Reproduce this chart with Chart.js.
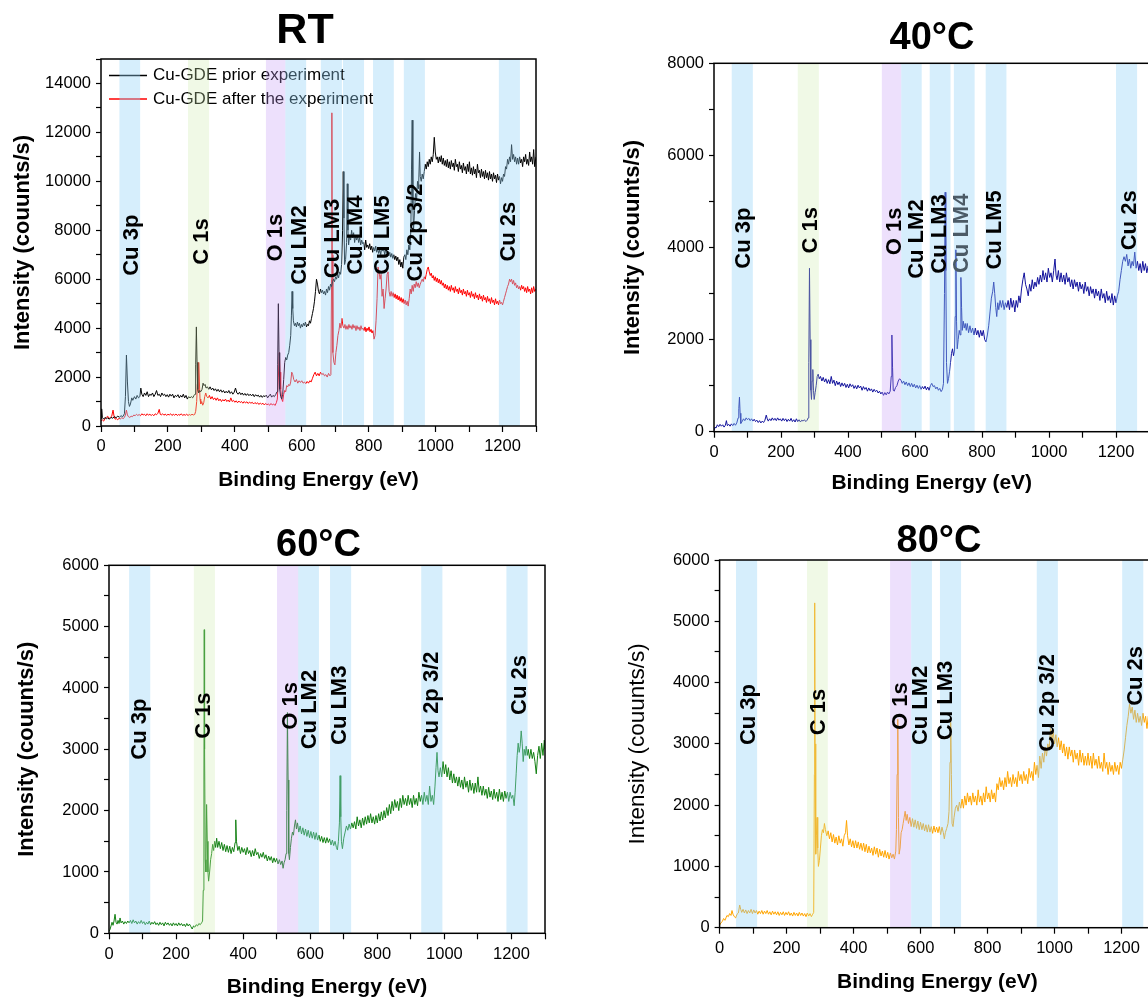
<!DOCTYPE html>
<html>
<head>
<meta charset="utf-8">
<script src="https://cdn.jsdelivr.net/npm/chart.js@4.4.1/dist/chart.umd.min.js"></script>
<style>
html, body { margin: 0; padding: 0; background: #fff; overflow: hidden; width: 1148px; height: 1000px; }
.panel { position: absolute; }
canvas { display: block; }
</style>
</head>
<body>
<div class="panel" style="left:0;top:0"><canvas id="cRT" width="574" height="500"></canvas></div>
<div class="panel" style="left:574px;top:0"><canvas id="c40" width="600" height="500"></canvas></div>
<div class="panel" style="left:0;top:500px"><canvas id="c60" width="574" height="500"></canvas></div>
<div class="panel" style="left:574px;top:500px"><canvas id="c80" width="600" height="500"></canvas></div>
<script>
// spectra: [binding energy (eV), intensity (counts/s)]
const rtPrior = [[0,300],[2,700],[4,350],[8,280],[12,350],[16,300],[20,330],[25,280],[30,350],[35,320],[40,380],[45,340],[50,400],[55,360],[60,420],[65,380],[70,500],[73,1200],[76,2900],[79,1800],[82,1000],[85,800],[88,900],[92,1150],[95,1050],[100,1200],[104,1100],[108,1250],[112,1150],[116,1200],[119,1550],[122,1300],[126,1200],[130,1350],[134,1250],[138,1400],[142,1200],[146,1300],[150,1250],[154,1350],[158,1200],[162,1300],[166,1450],[170,1250],[174,1300],[178,1200],[182,1350],[186,1250],[190,1300],[194,1200],[198,1280],[202,1180],[206,1300],[210,1220],[214,1300],[218,1150],[222,1250],[226,1200],[230,1280],[234,1150],[238,1250],[242,1180],[246,1300],[250,1150],[254,1250],[258,1100],[262,1200],[266,1150],[270,1200],[274,1150],[278,1250],[281,1300],[283,2500],[285,4050],[287,2600],[289,1500],[292,1350],[295,1450],[298,1400],[302,1500],[305,1750],[308,1650],[311,1700],[314,1550],[318,1600],[322,1500],[326,1600],[330,1480],[334,1550],[338,1450],[342,1520],[346,1420],[350,1500],[354,1400],[358,1480],[362,1380],[366,1450],[370,1350],[374,1420],[378,1350],[382,1450],[386,1330],[390,1400],[394,1300],[398,1380],[402,1550],[406,1350],[410,1300],[414,1380],[418,1280],[422,1350],[426,1260],[430,1330],[434,1250],[438,1320],[442,1240],[446,1300],[450,1230],[454,1300],[458,1200],[462,1280],[466,1220],[470,1260],[474,1180],[478,1250],[482,1170],[486,1240],[490,1200],[494,1260],[498,1150],[502,1230],[506,1300],[510,1180],[514,1250],[518,1200],[522,1280],[526,1400],[528,2500],[530,5000],[532,3000],[534,1500],[537,1200],[540,1100],[543,1300],[546,1900],[549,2600],[552,2800],[555,2700],[558,2900],[561,3000],[564,3300],[567,3700],[569,4500],[571,5500],[573,4800],[575,4300],[578,4100],[581,4200],[584,4050],[587,4250],[590,4100],[593,4200],[596,4000],[599,4150],[602,4050],[605,4200],[608,4100],[611,4250],[614,4050],[617,4150],[620,4100],[623,4300],[626,4200],[629,4400],[632,4600],[635,4800],[638,5100],[641,5500],[644,6000],[647,5800],[650,5500],[653,5400],[656,5600],[659,5450],[662,5550],[665,5400],[668,5500],[671,5350],[674,5600],[677,5450],[680,5700],[683,5550],[686,5800],[689,5700],[692,5900],[695,6000],[698,5900],[701,6100],[704,6000],[707,6200],[710,6050],[713,6300],[716,6200],[719,6600],[722,8000],[724,10400],[726,8500],[728,6600],[731,6800],[734,7500],[736,9900],[738,8000],[740,7400],[743,7800],[746,7600],[749,8000],[752,7700],[755,7900],[758,7500],[761,7800],[764,7600],[767,7750],[770,7500],[773,7700],[776,7400],[779,7600],[782,7450],[785,7500],[788,7200],[791,7600],[794,7300],[797,7400],[800,7250],[803,7450],[806,7200],[809,7350],[812,7100],[815,7300],[818,7150],[821,7350],[824,7100],[827,7250],[830,7050],[833,7200],[836,7000],[839,7300],[842,7150],[845,7200],[848,7000],[851,7250],[854,7050],[857,7150],[860,6950],[863,7100],[866,6900],[869,7050],[872,6850],[875,7000],[878,6800],[881,6950],[884,6750],[887,6900],[890,6600],[893,6800],[896,6500],[899,6700],[902,6450],[905,6900],[908,7000],[911,6800],[914,7200],[917,7000],[920,7400],[923,7200],[926,8000],[928,10500],[930,12500],[932,9000],[934,8000],[937,8800],[940,9500],[943,9200],[946,10000],[949,9700],[952,11200],[954,10200],[957,10000],[960,10300],[963,10100],[966,10400],[969,10700],[972,10500],[975,10800],[978,10600],[981,10900],[984,10700],[987,11000],[990,10800],[993,11100],[996,11800],[999,11200],[1002,10900],[1005,11000],[1008,10750],[1011,11000],[1014,10800],[1017,11050],[1020,10700],[1023,10950],[1026,10650],[1029,10850],[1032,10600],[1035,10900],[1038,10550],[1041,10800],[1044,10500],[1047,10850],[1050,10600],[1053,10750],[1056,10450],[1059,10900],[1062,10600],[1065,10700],[1068,10400],[1071,10800],[1074,10500],[1077,10650],[1080,10350],[1083,10750],[1086,10450],[1089,10600],[1092,10300],[1095,10700],[1098,10400],[1101,10800],[1104,10300],[1107,10550],[1110,10250],[1113,10600],[1116,10300],[1119,10500],[1122,10150],[1125,10700],[1128,10350],[1131,10450],[1134,10150],[1137,10500],[1140,10200],[1143,10400],[1146,10100],[1149,10450],[1152,10150],[1155,10350],[1158,10050],[1161,10400],[1164,10100],[1167,10300],[1170,10000],[1173,10350],[1176,10100],[1179,10250],[1182,9950],[1185,10300],[1188,10050],[1191,10200],[1194,9900],[1197,10150],[1200,10000],[1203,10300],[1206,10200],[1209,10600],[1212,10500],[1215,10900],[1218,10700],[1221,11000],[1224,10800],[1227,11500],[1230,10900],[1233,11100],[1236,10800],[1239,11000],[1242,10700],[1245,10950],[1248,10700],[1251,11000],[1254,10750],[1257,10900],[1260,10600],[1263,11000],[1266,10800],[1269,11100],[1272,10700],[1275,10900],[1278,10650],[1281,11200],[1284,10800],[1287,11000],[1290,10700],[1293,11300],[1296,10600],[1300,11000]];

const rtAfter = [[0,200],[4,250],[8,200],[12,300],[16,350],[20,400],[24,300],[28,350],[32,400],[36,650],[39,400],[42,280],[46,300],[50,250],[54,320],[58,280],[62,350],[66,300],[70,350],[73,450],[76,650],[79,450],[82,380],[86,350],[90,400],[94,380],[98,450],[102,420],[106,480],[110,430],[114,470],[118,420],[122,500],[126,450],[130,480],[134,420],[138,500],[142,440],[146,480],[150,430],[154,470],[158,420],[162,500],[166,460],[170,520],[174,680],[177,480],[180,450],[184,500],[188,440],[192,490],[196,430],[200,480],[204,450],[208,500],[212,430],[216,480],[220,440],[224,490],[228,430],[232,470],[236,440],[240,500],[244,430],[248,470],[252,440],[256,480],[260,430],[264,470],[268,440],[272,480],[276,450],[280,470],[283,600],[286,1000],[288,1700],[290,1400],[292,2600],[294,1800],[296,1100],[298,900],[301,1000],[304,850],[307,950],[310,1200],[313,1350],[316,1200],[320,1150],[324,1250],[328,1100],[332,1200],[336,1080],[340,1150],[344,1050],[348,1150],[352,1030],[356,1100],[360,1000],[364,1080],[368,1020],[372,1100],[376,1000],[380,1060],[384,980],[388,1150],[392,1000],[396,1050],[400,970],[404,1030],[408,950],[412,1020],[416,960],[420,1000],[424,930],[428,1000],[432,940],[436,990],[440,920],[444,980],[448,930],[452,970],[456,900],[460,960],[464,910],[468,950],[472,880],[476,940],[480,890],[484,930],[488,860],[492,920],[496,870],[500,900],[504,850],[508,920],[512,860],[516,900],[520,840],[524,950],[527,1100],[530,2000],[533,3000],[535,2200],[537,1500],[540,1100],[543,1000],[546,1300],[549,1450],[552,1400],[555,1650],[558,1600],[561,1700],[564,1650],[567,1800],[570,2200],[573,2100],[576,1900],[580,1800],[584,1900],[588,1750],[592,1850],[596,1780],[600,1850],[604,1750],[608,1800],[612,1730],[616,1820],[620,1750],[624,1850],[628,1800],[632,1950],[636,2100],[640,2200],[644,2050],[648,2150],[652,2050],[656,2200],[660,2100],[664,2150],[668,2050],[672,2100],[676,2000],[680,2150],[684,2050],[687,2100],[689,6000],[690,12800],[691,7000],[693,3000],[696,2600],[699,2500],[702,3000],[705,3300],[708,3700],[711,3900],[714,4200],[717,4000],[720,4400],[723,4100],[726,4000],[729,4150],[732,3950],[735,4100],[738,3950],[741,4150],[744,4000],[747,4100],[750,3950],[753,4150],[756,4000],[759,4100],[762,3900],[765,4100],[768,3950],[771,4050],[774,3900],[777,4100],[780,3950],[783,4000],[786,3900],[789,4050],[792,3850],[795,4000],[798,3900],[801,4050],[804,3850],[807,3950],[810,3800],[813,3900],[816,3550],[819,3700],[822,4300],[825,5200],[828,6500],[831,6300],[834,6000],[837,6200],[840,5300],[843,5600],[846,4800],[849,5200],[852,5600],[855,6200],[858,6300],[861,5500],[864,5300],[867,5500],[870,5300],[873,5450],[876,5250],[879,5400],[882,5200],[885,5350],[888,5150],[891,5300],[894,5100],[897,5250],[900,5050],[903,5200],[906,5000],[909,5150],[912,4950],[915,5100],[918,4900],[921,5200],[924,5600],[927,5400],[930,5750],[933,5500],[936,5800],[939,5650],[942,5900],[945,5700],[948,5850],[951,5650],[954,5800],[957,5900],[960,6000],[963,5900],[966,6100],[969,6000],[972,6200],[975,6400],[978,6500],[981,6300],[984,6150],[987,6250],[990,6050],[993,6150],[996,5950],[999,6100],[1002,5900],[1005,6050],[1008,5850],[1011,6000],[1014,5800],[1017,5950],[1020,5750],[1023,5850],[1026,5650],[1029,5800],[1032,5600],[1035,5750],[1038,5550],[1041,5700],[1044,5500],[1047,5750],[1050,5550],[1053,5650],[1056,5450],[1059,5700],[1062,5500],[1065,5600],[1068,5400],[1071,5650],[1074,5450],[1077,5550],[1080,5350],[1083,5600],[1086,5400],[1089,5500],[1092,5300],[1095,5550],[1098,5350],[1101,5450],[1104,5250],[1107,5500],[1110,5300],[1113,5400],[1116,5200],[1119,5450],[1122,5250],[1125,5350],[1128,5150],[1131,5400],[1134,5200],[1137,5300],[1140,5100],[1143,5350],[1146,5150],[1149,5250],[1152,5050],[1155,5300],[1158,5100],[1161,5200],[1164,5000],[1167,5250],[1170,5050],[1173,5150],[1176,4950],[1179,5200],[1182,5000],[1185,5100],[1188,4950],[1191,5150],[1194,5000],[1197,5050],[1200,4950],[1203,5100],[1206,5250],[1209,5400],[1212,5550],[1215,5700],[1218,5800],[1221,6000],[1224,5900],[1227,6000],[1230,5800],[1233,5950],[1236,5750],[1239,5850],[1242,5650],[1245,5750],[1248,5600],[1251,5700],[1254,5550],[1257,5750],[1260,5600],[1263,5700],[1266,5500],[1269,5650],[1272,5450],[1275,5700],[1278,5500],[1281,5600],[1284,5400],[1287,5650],[1290,5450],[1293,5700],[1296,5500],[1300,5600]];

const t40 = [[0,20],[3,100],[6,80],[10,150],[14,110],[18,160],[22,120],[26,150],[30,100],[34,140],[37,240],[40,130],[44,160],[48,120],[52,170],[56,130],[60,180],[64,140],[68,190],[72,300],[74,500],[76,750],[78,400],[80,180],[84,220],[88,280],[92,240],[96,300],[100,260],[104,290],[108,240],[112,280],[116,230],[120,270],[124,220],[128,250],[132,200],[136,240],[140,190],[144,230],[148,200],[152,250],[156,360],[159,280],[162,230],[166,280],[170,240],[174,300],[178,250],[182,290],[186,240],[190,300],[194,250],[198,280],[202,230],[206,290],[210,240],[214,280],[218,220],[222,270],[226,230],[230,290],[234,220],[238,260],[242,210],[246,280],[250,220],[254,260],[258,210],[262,250],[266,230],[270,260],[274,220],[278,250],[281,300],[283,1500],[285,3550],[287,2000],[289,900],[291,700],[293,1100],[295,1350],[297,900],[299,700],[302,850],[305,1000],[308,1200],[311,1250],[314,1150],[318,1200],[322,1100],[326,1180],[330,1080],[334,1150],[338,1050],[342,1130],[346,1040],[350,1200],[354,1050],[358,1120],[362,1000],[366,1100],[370,1020],[374,1080],[378,980],[382,1060],[386,990],[390,1050],[394,960],[398,1030],[402,950],[406,1040],[410,980],[414,1020],[418,940],[422,1000],[426,930],[430,1010],[434,950],[438,990],[442,900],[446,980],[450,920],[454,960],[458,880],[462,950],[466,890],[470,930],[474,860],[478,920],[482,870],[486,900],[490,840],[494,880],[498,820],[502,860],[506,790],[510,850],[514,800],[518,860],[522,820],[526,880],[529,1200],[531,2100],[533,1400],[535,900],[538,880],[542,960],[546,1000],[550,1100],[554,1150],[558,1120],[562,1050],[566,1100],[570,1020],[574,1080],[578,1000],[582,1060],[586,980],[590,1050],[594,970],[598,1030],[602,950],[606,1010],[610,940],[614,1000],[618,920],[622,980],[626,930],[630,990],[634,910],[638,970],[642,900],[646,1000],[650,1050],[654,980],[658,1000],[662,930],[666,970],[670,900],[674,940],[678,870],[682,920],[685,1050],[688,3000],[690,5200],[692,3500],[694,1500],[697,1050],[700,1150],[703,1300],[706,1500],[709,1700],[712,1800],[715,1650],[718,1750],[720,2500],[722,3950],[724,2400],[726,1800],[729,2000],[732,2200],[735,2100],[737,3350],[739,2700],[741,2200],[744,2400],[747,2250],[750,2350],[753,2200],[756,2350],[760,2150],[764,2300],[768,2150],[772,2250],[776,2100],[780,2250],[784,2100],[788,2200],[792,2050],[796,2200],[800,2080],[804,2200],[808,2000],[812,1950],[816,2100],[820,2300],[824,2600],[828,2900],[832,3050],[835,3250],[838,3000],[841,2700],[844,2500],[847,2800],[850,2650],[854,2850],[858,2700],[862,2850],[866,2650],[870,2800],[874,2700],[878,2850],[882,2650],[886,2900],[890,2700],[894,2850],[898,2600],[902,2850],[906,2700],[910,2950],[914,2800],[918,3100],[922,3300],[926,3450],[930,3200],[934,3100],[938,2950],[942,3200],[946,3050],[950,3300],[954,3100],[958,3250],[962,3150],[966,3350],[970,3200],[974,3400],[978,3250],[982,3500],[986,3300],[990,3450],[994,3250],[998,3550],[1002,3350],[1006,3450],[1010,3250],[1014,3500],[1018,3750],[1021,3400],[1024,3300],[1028,3500],[1032,3250],[1036,3450],[1040,3250],[1044,3400],[1048,3200],[1052,3450],[1056,3250],[1060,3350],[1064,3150],[1068,3300],[1072,3100],[1076,3300],[1080,3150],[1084,3250],[1088,3050],[1092,3250],[1096,3100],[1100,3200],[1104,3000],[1108,3250],[1112,3050],[1116,3150],[1120,2950],[1124,3150],[1128,3000],[1132,3100],[1136,2900],[1140,3100],[1144,2950],[1148,3050],[1152,2850],[1156,3100],[1160,2900],[1164,3000],[1168,2800],[1172,3050],[1176,2850],[1180,2950],[1184,2800],[1188,3000],[1192,2750],[1196,2950],[1200,2800],[1204,2950],[1208,3050],[1212,3300],[1216,3500],[1220,3700],[1224,3800],[1228,3700],[1232,3850],[1236,3600],[1240,3750],[1244,3550],[1248,3700],[1252,3600],[1256,3900],[1260,3550],[1264,3700],[1268,3500],[1272,3650],[1276,3450],[1280,3700],[1284,3500],[1288,3650],[1292,3450],[1296,3600],[1300,3500]];

const t60 = [[0,30],[3,60],[6,120],[9,180],[12,130],[15,200],[18,310],[21,180],[24,150],[27,210],[30,160],[33,250],[36,170],[40,200],[44,150],[48,190],[52,160],[56,200],[60,170],[64,210],[68,160],[72,220],[76,170],[80,200],[84,150],[88,190],[92,160],[96,210],[100,160],[104,190],[108,140],[112,180],[116,150],[120,200],[124,140],[128,180],[132,150],[136,190],[140,140],[144,170],[148,130],[152,180],[156,140],[160,170],[164,120],[168,180],[172,140],[176,170],[180,130],[184,160],[188,120],[192,170],[196,130],[200,160],[204,120],[208,170],[212,130],[216,160],[220,120],[224,150],[228,110],[232,160],[236,120],[240,150],[244,110],[248,70],[252,120],[256,100],[260,140],[264,120],[268,160],[272,140],[276,170],[279,200],[281,700],[283,2500],[284,4950],[285,3000],[287,1200],[289,1000],[291,2100],[293,1500],[295,1000],[297,850],[300,1000],[303,1200],[306,1300],[309,1450],[312,1350],[315,1500],[318,1400],[321,1550],[324,1400],[328,1500],[332,1380],[336,1480],[340,1350],[344,1450],[348,1330],[352,1430],[356,1320],[360,1420],[364,1300],[368,1400],[372,1330],[376,1480],[378,1850],[380,1500],[384,1350],[388,1420],[392,1300],[396,1400],[400,1320],[404,1380],[408,1280],[412,1400],[416,1300],[420,1350],[424,1250],[428,1350],[432,1260],[436,1380],[440,1280],[444,1320],[448,1220],[452,1300],[456,1240],[460,1320],[464,1220],[468,1280],[472,1180],[476,1260],[480,1190],[484,1250],[488,1150],[492,1230],[496,1160],[500,1220],[504,1130],[508,1200],[512,1120],[516,1180],[519,1060],[522,1150],[525,1200],[528,1300],[530,2000],[532,3600],[534,2500],[536,1300],[538,1200],[541,1400],[544,1550],[547,1650],[550,1600],[553,1750],[556,1850],[559,1700],[562,1800],[566,1650],[570,1750],[574,1620],[578,1720],[582,1600],[586,1700],[590,1580],[594,1680],[598,1560],[602,1660],[606,1550],[610,1650],[614,1530],[618,1640],[622,1520],[626,1600],[630,1500],[634,1580],[638,1480],[642,1560],[646,1470],[650,1560],[654,1480],[658,1540],[662,1440],[666,1520],[670,1430],[674,1500],[678,1400],[681,1360],[684,1500],[687,1800],[689,2570],[691,1900],[693,1500],[696,1380],[700,1550],[704,1650],[708,1750],[712,1680],[716,1780],[720,1700],[724,1800],[728,1720],[732,1820],[736,1700],[740,1900],[744,1750],[748,1850],[752,1720],[756,1880],[760,1760],[764,1900],[768,1780],[772,1920],[776,1800],[780,1950],[784,1800],[788,1900],[792,1780],[796,1920],[800,1800],[804,1950],[808,1830],[812,1980],[816,1850],[820,2000],[824,1880],[828,2050],[832,1920],[836,2100],[840,1950],[844,2150],[848,2000],[852,2180],[856,2050],[860,2150],[864,2000],[868,2200],[872,2050],[876,2250],[880,2100],[884,2200],[888,2080],[892,2250],[896,2100],[900,2200],[904,2050],[908,2250],[912,2100],[916,2200],[920,2080],[924,2300],[928,2150],[932,2250],[936,2100],[940,2300],[944,2150],[948,2250],[952,2100],[956,2400],[960,2150],[964,2250],[968,2100],[972,2400],[975,2700],[978,2950],[981,2650],[984,2550],[988,2700],[992,2550],[996,2800],[1000,2600],[1004,2750],[1008,2550],[1012,2700],[1016,2500],[1020,2650],[1024,2450],[1028,2600],[1032,2450],[1036,2550],[1040,2400],[1044,2550],[1048,2380],[1052,2500],[1056,2350],[1060,2550],[1064,2380],[1068,2480],[1072,2300],[1076,2500],[1080,2330],[1084,2450],[1088,2280],[1092,2450],[1096,2300],[1100,2550],[1104,2300],[1108,2400],[1112,2250],[1116,2400],[1120,2250],[1124,2350],[1128,2200],[1132,2380],[1136,2220],[1140,2320],[1144,2180],[1148,2350],[1152,2200],[1156,2300],[1160,2150],[1164,2350],[1168,2180],[1172,2300],[1176,2150],[1180,2320],[1184,2200],[1188,2300],[1192,2150],[1196,2300],[1200,2200],[1204,2250],[1208,2080],[1211,2300],[1214,2600],[1217,2900],[1220,3100],[1223,2950],[1226,3050],[1229,3300],[1232,3100],[1235,2800],[1238,3000],[1241,2900],[1244,3050],[1247,2900],[1250,3000],[1254,2850],[1258,3000],[1262,2850],[1266,2950],[1270,2800],[1274,2600],[1278,2900],[1282,3050],[1286,2850],[1290,3100],[1294,2900],[1298,3150],[1300,3000]];

const t80 = [[0,40],[4,80],[8,100],[12,150],[16,120],[19,160],[22,200],[26,180],[30,230],[34,200],[37,280],[40,220],[44,180],[48,160],[52,220],[56,240],[60,370],[63,300],[66,250],[70,300],[74,240],[78,290],[82,230],[86,280],[90,240],[94,300],[98,230],[102,290],[106,240],[110,280],[114,220],[118,270],[122,230],[126,280],[130,220],[134,270],[138,230],[142,280],[146,220],[150,260],[154,210],[158,270],[162,220],[166,260],[170,210],[174,260],[178,200],[182,250],[186,210],[190,260],[194,200],[198,250],[202,210],[206,260],[210,200],[214,240],[218,190],[222,250],[226,200],[230,240],[234,190],[238,250],[242,200],[246,240],[250,190],[254,230],[258,180],[262,240],[266,190],[270,230],[274,180],[278,220],[281,250],[283,2500],[284,5300],[285,3000],[287,1200],[289,1500],[291,1800],[293,1300],[295,1000],[298,1100],[301,1300],[304,1500],[307,1600],[310,1550],[313,1700],[316,1600],[320,1500],[324,1580],[328,1450],[332,1550],[336,1400],[340,1520],[344,1380],[348,1480],[352,1350],[356,1500],[360,1380],[364,1450],[368,1330],[372,1500],[376,1550],[379,1750],[382,1500],[386,1350],[390,1450],[394,1320],[398,1420],[402,1300],[406,1420],[410,1300],[414,1400],[418,1280],[422,1380],[426,1260],[430,1380],[434,1240],[438,1360],[442,1220],[446,1330],[450,1220],[454,1300],[458,1180],[462,1320],[466,1200],[470,1300],[474,1150],[478,1280],[482,1170],[486,1250],[490,1150],[494,1260],[498,1140],[502,1230],[506,1120],[510,1220],[514,1140],[518,1200],[522,1120],[526,1250],[528,1600],[530,2500],[532,3400],[534,1800],[536,1200],[539,1300],[542,1550],[545,1600],[548,1700],[551,1800],[554,1900],[557,1750],[560,1850],[564,1700],[568,1800],[572,1650],[576,1780],[580,1640],[584,1760],[588,1620],[592,1740],[596,1600],[600,1720],[604,1600],[608,1700],[612,1580],[616,1680],[620,1560],[624,1680],[628,1560],[632,1650],[636,1540],[640,1660],[644,1560],[648,1640],[652,1550],[656,1650],[660,1520],[664,1640],[668,1550],[671,1450],[674,1550],[678,1620],[682,1700],[685,1900],[688,2700],[690,3350],[692,2500],[694,1700],[697,1650],[700,1800],[704,1950],[708,2000],[712,1900],[716,2050],[720,1950],[724,2100],[728,1950],[732,2150],[736,2000],[740,2200],[744,2050],[748,2150],[752,2000],[756,2200],[760,2050],[764,2150],[768,2000],[772,2250],[776,2050],[780,2150],[784,2000],[788,2200],[792,2050],[796,2300],[800,2100],[804,2200],[808,2050],[812,2250],[816,2100],[820,2200],[824,2050],[828,2350],[832,2250],[836,2450],[840,2300],[844,2400],[848,2250],[852,2450],[856,2300],[860,2550],[864,2350],[868,2450],[872,2300],[876,2500],[880,2350],[884,2450],[888,2300],[892,2550],[896,2400],[900,2500],[904,2350],[908,2550],[912,2400],[916,2500],[920,2350],[924,2600],[928,2450],[932,2550],[936,2400],[940,2700],[944,2500],[948,2650],[952,2450],[956,2800],[960,2600],[964,2850],[968,2700],[972,2950],[976,2800],[980,3000],[984,2900],[988,3250],[992,3050],[996,3200],[1000,3000],[1004,3150],[1008,2950],[1012,3100],[1016,2900],[1020,3050],[1024,2850],[1028,3000],[1032,2800],[1036,2950],[1040,2750],[1044,2950],[1048,2800],[1052,2900],[1056,2700],[1060,2900],[1064,2750],[1068,2850],[1072,2650],[1076,2900],[1080,2700],[1084,2850],[1088,2650],[1092,2800],[1096,2650],[1100,2850],[1104,2650],[1108,2800],[1112,2600],[1116,2850],[1120,2650],[1124,2750],[1128,2600],[1132,2800],[1136,2600],[1140,2700],[1144,2550],[1148,2850],[1152,2600],[1156,2700],[1160,2500],[1164,2700],[1168,2550],[1172,2650],[1176,2500],[1180,2700],[1184,2550],[1188,2650],[1192,2500],[1196,2700],[1200,2600],[1204,2750],[1208,2900],[1212,3100],[1216,3300],[1220,3450],[1224,3650],[1228,3500],[1232,3600],[1236,3400],[1240,3550],[1244,3350],[1248,3500],[1252,3350],[1256,3450],[1260,3300],[1264,3500],[1268,3350],[1272,3450],[1276,3250],[1280,3450],[1284,3300],[1288,3400],[1292,3250],[1296,3450],[1300,3350]];

// peak regions: [from eV, to eV, colour key]
const rtBands = [[55,117,'b'],[260,323,'g'],[493,551,'p'],[551,613,'b'],[657,720,'b'],[723,786,'b'],[813,875,'b'],[905,968,'b'],[1189,1252,'b']];
const bands40 = [[53,116,'b'],[250,313,'g'],[501,559,'p'],[559,620,'b'],[644,706,'b'],[716,778,'b'],[811,873,'b'],[1200,1263,'b']];
const bands60 = [[60,123,'b'],[253,316,'g'],[501,564,'p'],[564,626,'b'],[659,722,'b'],[931,994,'b'],[1185,1248,'b']];
const bands80 = [[49,112,'b'],[261,323,'g'],[509,572,'p'],[572,634,'b'],[658,721,'b'],[947,1010,'b'],[1202,1265,'b']];

// peak names: [text, eV, intensity where the text starts]
const rtPeaks = [['Cu 3p',92,6140],['C 1s',301,6590],['O 1s',523,6720],['Cu LM2',596,5770],['Cu LM3',694,6040],['Cu LM4',761,6180],['Cu LM5',842,6180],['Cu 2p 3/2',941,5910],['Cu 2s',1220,6720]];
const peaks40 = [['Cu 3p',89,3540],['C 1s',288,3870],['O 1s',540,3830],['Cu LM2',606,3320],['Cu LM3',673,3430],['Cu LM4',741,3445,'#4b5a66'],['Cu LM5',840,3520],['Cu 2s',1241,3940]];
const peaks60 = [['Cu 3p',91,2830],['C 1s',283,3170],['O 1s',541,3320],['Cu LM2',600,3000],['Cu LM3',690,3070],['Cu 2p 3/2',964,3000],['Cu 2s',1226,3560]];
const peaks80 = [['Cu 3p',87,2980],['C 1s',298,3140],['O 1s',540,3225],['Cu LM2',601,2980],['Cu LM3',676,3060],['Cu 2p 3/2',979,2870],['Cu 2s',1242,3620]];

const FONT = '"Liberation Sans", Arial, Helvetica, sans-serif';
const BAND_COLORS = { b: 'rgba(146,210,247,0.376)', g: 'rgba(205,235,172,0.3)', p: 'rgba(195,152,245,0.3)' };

function makePanel(id, p) {
  const a = p.area;
  const yTitleHalf = p.yTitleSize * 0.6;
  const wy = a.l - (p.yTitleX - yTitleHalf);
  const hx = p.xTitleY - a.b + 21 * 0.6;

  const decor = {
    id: 'decor',
    afterDatasetsDraw(chart) {
      const {ctx, chartArea: ca, scales: {x, y}} = chart;
      ctx.save();
      if (p.legend) {
        ctx.font = '17px ' + FONT;
        ctx.textAlign = 'left';
        ctx.textBaseline = 'middle';
        chart.data.datasets.forEach((ds, i) => {
          const yy = ca.top + 16.5 + i * 23.5;
          ctx.strokeStyle = ds.borderColor;
          ctx.lineWidth = 1.5;
          ctx.beginPath();
          ctx.moveTo(ca.left + 8, yy);
          ctx.lineTo(ca.left + 46, yy);
          ctx.stroke();
          ctx.fillStyle = '#000';
          ctx.fillText(ds.label, ca.left + 52, yy);
        });
      }
      ctx.beginPath();
      ctx.rect(ca.left, ca.top, ca.right - ca.left, ca.bottom - ca.top);
      ctx.clip();
      p.bands.forEach(([e0, e1, k]) => {
        const x0 = x.getPixelForValue(e0);
        const x1 = x.getPixelForValue(e1);
        ctx.fillStyle = BAND_COLORS[k];
        ctx.fillRect(x0, ca.top, x1 - x0, ca.bottom - ca.top);
      });
      ctx.restore();

      ctx.save();
      ctx.font = 'bold 22px ' + FONT;
      ctx.textAlign = 'left';
      ctx.textBaseline = 'middle';
      p.peaks.forEach(([txt, e, v, col]) => {
        ctx.save();
        ctx.translate(x.getPixelForValue(e), y.getPixelForValue(v));
        ctx.rotate(-Math.PI / 2);
        ctx.fillStyle = col || '#000';
        ctx.fillText(txt, 0, 0);
        ctx.restore();
      });
      ctx.strokeStyle = '#000';
      ctx.lineWidth = 1.5;
      ctx.strokeRect(ca.left, ca.top, ca.right - ca.left, ca.bottom - ca.top);
      ctx.fillStyle = '#000';
      ctx.font = 'bold ' + p.titleSize + 'px ' + FONT;
      ctx.textAlign = 'center';
      ctx.fillText(p.title, p.titleX - p.x0, p.titleY - p.y0);
      ctx.restore();
    }
  };

  return new Chart(document.getElementById(id), {
    type: 'line',
    data: {
      datasets: p.series.map(s => ({
        label: s.label,
        data: s.pts.map(([e, v]) => ({x: e, y: v})),
        borderColor: s.color,
        backgroundColor: s.color,
        borderWidth: 1,
        borderJoinStyle: 'round',
        pointRadius: 0,
        tension: 0,
        fill: false
      }))
    },
    options: {
      responsive: false,
      animation: false,
      events: [],
      layout: {
        padding: {
          left: p.yTitleX - yTitleHalf - p.x0,
          top: a.t - p.y0,
          right: p.x0 + p.w - a.r,
          bottom: p.y0 + p.h - a.b - hx
        }
      },
      plugins: { legend: { display: false }, tooltip: { enabled: false }, title: { display: false } },
      scales: {
        x: {
          type: 'linear', min: 0, max: 1300,
          ticks: {
            stepSize: 100, maxTicksLimit: 100, autoSkip: false, maxRotation: 0, minRotation: 0,
            padding: 5, color: '#000', font: {family: FONT, size: 16.5},
            callback: v => (v % 200 === 0 ? String(v) : '')
          },
          grid: { drawOnChartArea: false, drawTicks: true, tickLength: 6, tickColor: '#000', tickWidth: 1.2 },
          border: { display: false },
          title: { display: true, text: 'Binding Energy (eV)', color: '#000', padding: 0,
                   font: {family: FONT, size: 21, weight: 'bold'} },
          afterFit: s => { s.height = hx; }
        },
        y: {
          type: 'linear', min: 0, max: p.yMax,
          ticks: {
            stepSize: p.yMinor, maxTicksLimit: 100, autoSkip: false,
            padding: 5, color: '#000', font: {family: FONT, size: 16.5},
            callback: v => (v % p.yMajor === 0 ? String(v) : '')
          },
          grid: { drawOnChartArea: false, drawTicks: true, tickLength: 5, tickColor: '#000', tickWidth: 1.2 },
          border: { display: false },
          title: { display: true, text: 'Intensity (couunts/s)', color: '#000', padding: 0,
                   font: {family: FONT, size: p.yTitleSize, weight: p.yTitleBold ? 'bold' : 'normal'} },
          afterFit: s => { s.width = wy; }
        }
      }
    },
    plugins: [decor]
  });
}

makePanel('cRT', {
  x0: 0, y0: 0, w: 574, h: 500, area: {l: 101, t: 59, r: 536, b: 426},
  yMax: 15000, yMajor: 2000, yMinor: 1000, yTitleX: 23, yTitleSize: 22, yTitleBold: true, xTitleY: 480,
  title: 'RT', titleX: 305, titleY: 31, titleSize: 43, legend: true,
  series: [
    {label: 'Cu-GDE prior experiment', pts: rtPrior, color: '#000000'},
    {label: 'Cu-GDE after the experiment', pts: rtAfter, color: '#ff0000'}
  ],
  bands: rtBands, peaks: rtPeaks
});

makePanel('c40', {
  x0: 574, y0: 0, w: 600, h: 500, area: {l: 714, t: 63.3, r: 1149.5, b: 431.7},
  yMax: 8000, yMajor: 2000, yMinor: 1000, yTitleX: 633, yTitleSize: 22, yTitleBold: true, xTitleY: 483,
  title: '40°C', titleX: 932, titleY: 39, titleSize: 38, legend: false,
  series: [{label: '40°C', pts: t40, color: '#12129c'}],
  bands: bands40, peaks: peaks40
});

makePanel('c60', {
  x0: 0, y0: 500, w: 574, h: 500, area: {l: 109, t: 565.3, r: 545, b: 933.3},
  yMax: 6000, yMajor: 1000, yMinor: 500, yTitleX: 27, yTitleSize: 22, yTitleBold: true, xTitleY: 987,
  title: '60°C', titleX: 318.5, titleY: 546, titleSize: 38, legend: false,
  series: [{label: '60°C', pts: t60, color: '#138013'}],
  bands: bands60, peaks: peaks60
});

makePanel('c80', {
  x0: 574, y0: 500, w: 600, h: 500, area: {l: 719.6, t: 560, r: 1155, b: 927.7},
  yMax: 6000, yMajor: 1000, yMinor: 500, yTitleX: 638, yTitleSize: 22.5, yTitleBold: false, xTitleY: 982,
  title: '80°C', titleX: 939, titleY: 542, titleSize: 38, legend: false,
  series: [{label: '80°C', pts: t80, color: '#ffa500'}],
  bands: bands80, peaks: peaks80
});
</script>
</body>
</html>
